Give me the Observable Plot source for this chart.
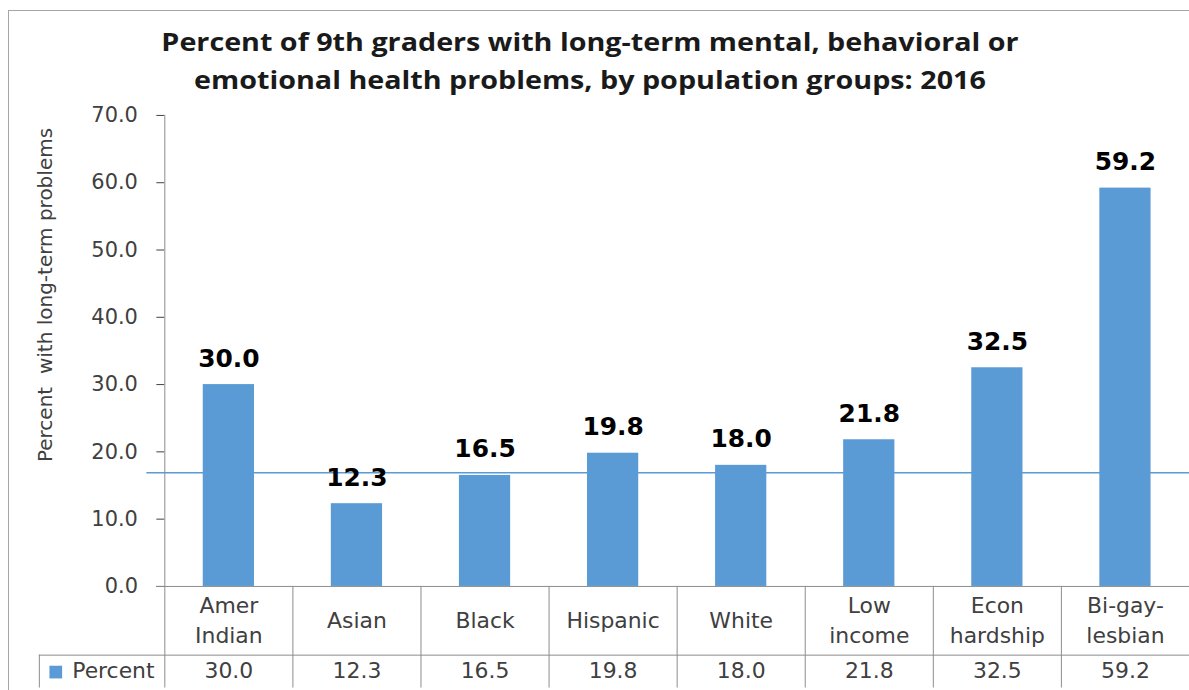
<!DOCTYPE html>
<html>
<head>
<meta charset="utf-8">
<script src="https://cdn.jsdelivr.net/npm/d3@7"></script>
<script src="https://cdn.jsdelivr.net/npm/@observablehq/plot@0.6"></script>
<style>
  html, body { margin: 0; padding: 0; background: #fff; overflow: hidden; }
  #page { position: relative; width: 1189px; height: 690px; overflow: hidden; background: #fff; }
  #border { position: absolute; left: 8px; top: 10px; width: 1300px; height: 800px; border: 1px solid #a6a6a6; box-sizing: border-box; }
  #title { position: absolute; left: 0; top: 22px; width: 1180px; text-align: center; font-family: "Open Sans", sans-serif; font-weight: bold; font-size: 25px; line-height: 38px; color: #1a1a1a; transform: scaleX(1.148); transform-origin: 590px 0; }
  #ylabel { position: absolute; left: 45px; top: 295px; transform: translate(-50%, -50%) rotate(-90deg); white-space: pre; font-family: "DejaVu Sans", sans-serif; font-size: 20px; color: #404040; }
  #chart { position: absolute; left: 0; top: 100px; }
</style>
</head>
<body>
<div id="page">
  <div id="border"></div>
  <div id="title"></div>
  <div id="ylabel"></div>
  <div id="chart"></div>
</div>
<script>
// ---- data ----
const titleLines = ["Percent of 9th graders with long-term mental, behavioral or", "emotional health problems, by population groups: 2016"];
const yLabel = "Percent  with long-term problems";
const categories = ["Amer\nIndian", "Asian", "Black", "Hispanic", "White", "Low\nincome", "Econ\nhardship", "Bi-gay-\nlesbian"];
const values = [30.0, 12.3, 16.5, 19.8, 18.0, 21.8, 32.5, 59.2];
const yTicks = [0, 10, 20, 30, 40, 50, 60, 70];
const seriesName = "Percent";
const referenceValue = [16.9];

// ---- layout ----
const W = 1194, H = 590, mL = 165, mR = 0, mT = 15, mB = 102;
const step = (W - mL - mR) / categories.length;
const frameH = H - mT - mB;
const blue = "#5B9BD5";
const lineGray = "#8c8c8c";
const textGray = "#404040";
const fmt = d3.format(".1f");

document.getElementById("title").innerHTML = titleLines.join("<br>");
document.getElementById("ylabel").textContent = yLabel;

const rows = categories.map((c, i) => ({category: c, value: values[i]}));

const chart = Plot.plot({
  width: W, height: H,
  marginLeft: mL, marginRight: mR, marginTop: mT, marginBottom: mB,
  style: {fontFamily: "DejaVu Sans, sans-serif", fontSize: "21px", color: textGray, background: "transparent", overflow: "visible"},
  x: {domain: categories, paddingInner: 0.6, paddingOuter: 0.3, round: false, axis: null},
  y: {domain: [0, 70], ticks: yTicks, tickFormat: fmt, tickSize: 8, tickPadding: 19, label: null},
  marks: [
    // reference line behind bars
    Plot.ruleY(referenceValue, {stroke: blue, strokeWidth: 1.5, insetLeft: -18}),
    Plot.barY(rows, {x: "category", y: "value", fill: blue}),
    Plot.text(rows, {x: "category", y: "value", text: d => fmt(d.value), dy: -18, lineAnchor: "bottom", fontWeight: "bold", fontSize: 25, fill: "#000"}),
    // y axis line (continues through table)
    Plot.ruleX([categories[0]], {dx: -step / 2, insetBottom: -mB, stroke: lineGray}),
    // column boundaries in the table
    Plot.ruleX(categories.slice(1), {dx: -step / 2, insetTop: frameH, insetBottom: -mB, stroke: lineGray}),
    // baseline / table top
    Plot.ruleY([0], {insetLeft: -8, stroke: lineGray}),
    // header row bottom line
    Plot.ruleY([0], {dy: 69, insetLeft: -126, stroke: lineGray}),
    // left border of data row
    Plot.ruleX([categories[0]], {dx: -step / 2 - 126, insetTop: frameH + 69, insetBottom: -mB, stroke: lineGray}),
    // header row labels
    Plot.text(rows, {x: "category", text: "category", frameAnchor: "bottom", dy: 32, lineAnchor: "middle", lineHeight: 1.35, fontSize: 22, fill: textGray}),
    // data row values
    Plot.text(rows, {x: "category", text: d => fmt(d.value), frameAnchor: "bottom", dy: 85, lineAnchor: "middle", fontSize: 22, fill: textGray}),
    // legend key + series name
    Plot.dot([seriesName], {frameAnchor: "bottom-left", dx: -109.5, dy: 86, symbol: "square", r: 7.2, fill: blue, stroke: null}),
    Plot.text([seriesName], {text: d => d, frameAnchor: "bottom-left", dx: -93, dy: 85, textAnchor: "start", lineAnchor: "middle", fontSize: 22, fill: textGray})
  ]
});
document.getElementById("chart").appendChild(chart);
</script>
</body>
</html>
